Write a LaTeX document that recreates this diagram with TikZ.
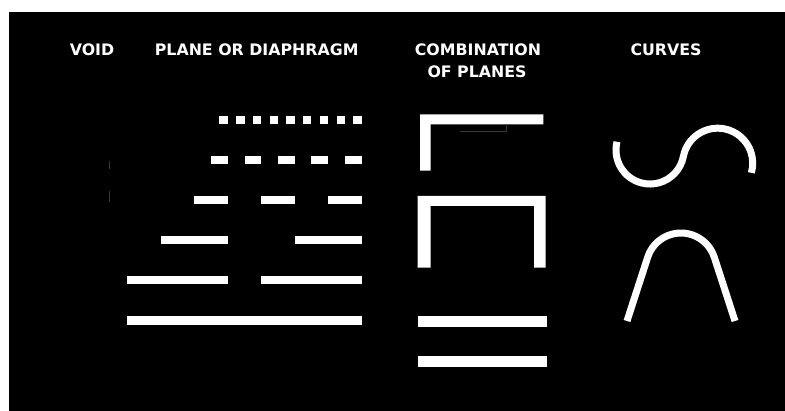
\documentclass[tikz,border=0pt]{standalone}
\usepackage{fontspec}
\setmainfont{DejaVu Sans}
\begin{document}
\begin{tikzpicture}[x=1pt,y=1pt,
  lbl/.style={text=white,font=\bfseries\fontsize{15.8}{22}\selectfont,anchor=base,inner sep=0pt},
  bar/.style={fill=white,draw=none},
  curve/.style={draw=white,line width=7pt,line cap=butt},
  faint/.style={draw=black!78!white,line width=0.7pt}]
\useasboundingbox (0,0) rectangle (785,-411);
\fill[white] (0,0) rectangle (785,-411);
\fill[black] (9,-12) rectangle (785,-411);
% headings
\node[lbl] (void) at (92,-56) {VOID};
\node[lbl] (plane) at (256.7,-56) {PLANE OR DIAPHRAGM};
\node[lbl] (comb1) at (478,-56) {COMBINATION};
\node[lbl] (comb2) at (477,-78) {OF PLANES};
\node[lbl] (curves) at (666,-56) {CURVES};
% void column faint marks
\draw[faint] (109.3,-160.7) -- (109.3,-169.3);
\draw[faint] (109.3,-190.7) -- (109.3,-202.3);
% plane or diaphragm rows
\def\R{361.7}
\def\u{8.37}
\foreach \k in {0,...,8}
  \fill[bar] ({\R-(2*\k+1)*\u},-115.7) rectangle ({\R-2*\k*\u},-124.3);
\foreach \k in {0,...,4}
  \fill[bar] ({\R-(4*\k+2)*\u},-155.7) rectangle ({\R-4*\k*\u},-164);
\foreach \k in {0,...,2}
  \fill[bar] ({\R-(8*\k+4)*\u},-196) rectangle ({\R-8*\k*\u},-204.3);
\foreach \k in {0,1}
  \fill[bar] ({\R-(16*\k+8)*\u},-235.7) rectangle ({\R-16*\k*\u},-244);
\fill[bar] ({\R-12*\u},-275.7) rectangle (\R,-284.3);
\fill[bar] ({\R-28*\u},-275.7) rectangle ({\R-16*\u},-284.3);
\fill[bar] ({\R-28*\u},-315.7) rectangle (\R,-325.3);
% combination of planes
\fill[bar] (420,-114.3) -- (543.3,-114.3) -- (543.3,-124.3) -- (430.7,-124.3)
  -- (430.7,-170.7) -- (420,-170.7) -- cycle;
\draw[faint,line width=0.5pt] (460,-131) -- (506,-131) -- (506,-124.5);
\fill[bar] (417.7,-196) -- (545.7,-196) -- (545.7,-267.7) -- (534,-267.7)
  -- (534,-206) -- (430.7,-206) -- (430.7,-267.7) -- (417.7,-267.7) -- cycle;
\fill[bar] (418.3,-315.7) rectangle (546.7,-326.7);
\fill[bar] (418.3,-355.7) rectangle (546.7,-367.3);
% curves
\draw[curve] (617,-141.8) arc[start angle=166,end angle=349,radius=34]
  arc[start angle=169,end angle=-16,radius=35];
\draw[curve] (627,-321) -- (647.7,-257.2)
  arc[start angle=162,end angle=18,radius=35] -- (735,-321);
\end{tikzpicture}
\end{document}
